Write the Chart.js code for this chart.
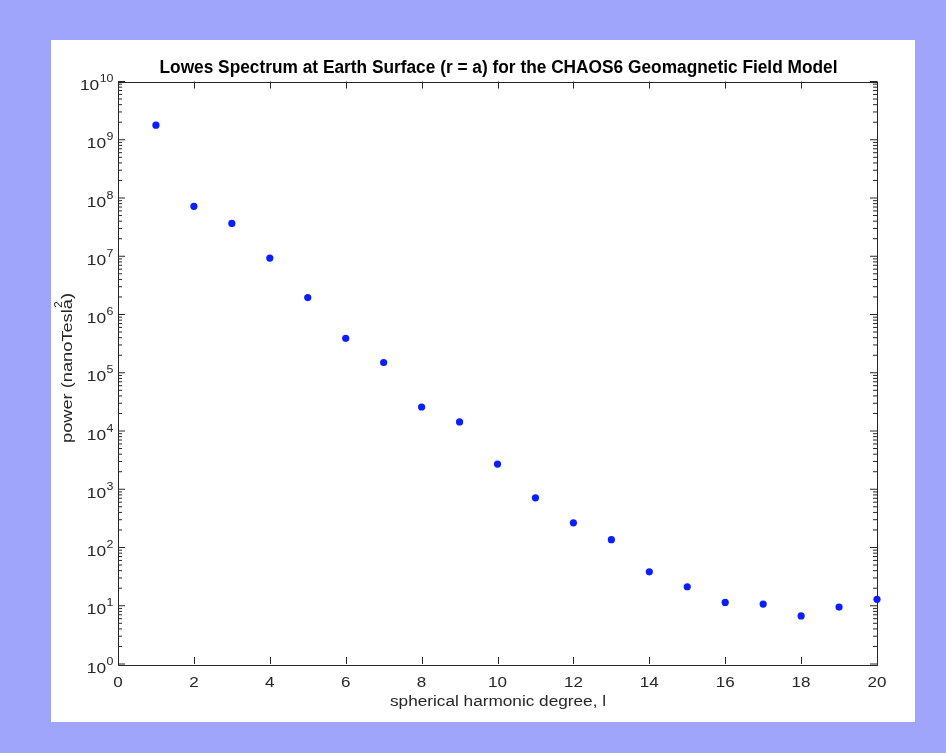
<!DOCTYPE html>
<html><head><meta charset="utf-8">
<script src="https://cdn.jsdelivr.net/npm/chart.js@4"></script>
<style>html,body{margin:0;padding:0;background:#a0a5fc;}canvas{display:block}</style>
</head><body>
<canvas id="c" width="946" height="753"></canvas>
<script>
// ---- data ----
const degrees = [1,2,3,4,5,6,7,8,9,10,11,12,13,14,15,16,17,18,19,20];
const power = [1.78e9, 7.2e7, 3.66e7, 9.3e6, 1.95e6, 3.9e5, 1.5e5, 2.58e4, 1.43e4, 2.7e3,
               713, 265, 136, 38.3, 21.2, 11.4, 10.7, 6.7, 9.5, 12.9];
const xTickValues = [0,2,4,6,8,10,12,14,16,18,20];
const yTickExponents = [0,1,2,3,4,5,6,7,8,9,10];
const titleText = 'Lowes Spectrum at Earth Surface (r = a) for the CHAOS6 Geomagnetic Field Model';
const xTitleText = 'spherical harmonic degree, l';
const yTitleMain = 'power (nanoTesla';
const yTitleSup = '2';
const yTitleEnd = ')';

const FONT = '"Liberation Sans", Arial, Helvetica, sans-serif';
const AX = '#262626';

function txt(ctx, s, x, y, size, weight, align, baseline, sx, color) {
  ctx.save();
  ctx.font = weight + ' ' + size + 'px ' + FONT;
  ctx.fillStyle = color || AX;
  ctx.textBaseline = baseline;
  ctx.textAlign = 'left';
  const w = ctx.measureText(s).width * sx;
  const x0 = align === 'center' ? x - w / 2 : align === 'right' ? x - w : x;
  ctx.translate(x0, y);
  ctx.scale(sx, 1);
  ctx.fillText(s, 0, 0);
  ctx.restore();
  return w;
}
function fitScale(ctx, s, size, weight, target) {
  ctx.save();
  ctx.font = weight + ' ' + size + 'px ' + FONT;
  const w = ctx.measureText(s).width;
  ctx.restore();
  return target / w;
}

const decor = {
  id: 'decor',
  beforeDraw(chart) {
    const ctx = chart.ctx;
    ctx.save();
    ctx.fillStyle = '#a0a5fc';
    ctx.fillRect(0, 0, chart.width, chart.height);
    ctx.fillStyle = '#ffffff';
    ctx.fillRect(51, 40, 864, 682);
    ctx.restore();
  },
  beforeDatasetsDraw(chart) {
    const ctx = chart.ctx;
    const a = chart.chartArea;
    const xs = chart.scales.x, ys = chart.scales.y;
    ctx.save();
    ctx.strokeStyle = AX;
    ctx.lineWidth = 1;
    ctx.beginPath();
    xTickValues.forEach(v => {
      const px = Math.round(xs.getPixelForValue(v)) + 0.5;
      ctx.moveTo(px, a.bottom); ctx.lineTo(px, a.bottom - 7);
      ctx.moveTo(px, a.top); ctx.lineTo(px, a.top + 7);
    });
    yTickExponents.forEach(e => {
      const py = ys.getPixelForValue(Math.pow(10, e));
      ctx.moveTo(a.left, py); ctx.lineTo(a.left + 7, py);
      ctx.moveTo(a.right, py); ctx.lineTo(a.right - 7, py);
      if (e < 10) {
        for (let m = 2; m <= 9; m++) {
          const pm = ys.getPixelForValue(m * Math.pow(10, e));
          ctx.moveTo(a.left, pm); ctx.lineTo(a.left + 4, pm);
          ctx.moveTo(a.right, pm); ctx.lineTo(a.right - 4, pm);
        }
      }
    });
    ctx.stroke();
    ctx.strokeRect(Math.round(a.left) + 0.5, Math.round(a.top) + 0.5,
                   Math.round(a.right - a.left), Math.round(a.bottom - a.top));
    ctx.restore();
  },
  afterDraw(chart) {
    const ctx = chart.ctx;
    const xs = chart.scales.x, ys = chart.scales.y;
    // title
    const tsx = fitScale(ctx, titleText, 17.5, 'bold', 678);
    txt(ctx, titleText, 498.5, 73, 17.5, 'bold', 'center', 'alphabetic', tsx, '#000');
    // x tick labels
    xTickValues.forEach(v => {
      txt(ctx, String(v), xs.getPixelForValue(v), 687, 15.5, 'normal', 'center', 'alphabetic', 1.1);
    });
    // y tick labels: 10^e
    yTickExponents.forEach(e => {
      const py = ys.getPixelForValue(Math.pow(10, e));
      ctx.save();
      ctx.font = '11.5px ' + FONT;
      const ew = ctx.measureText(String(e)).width * 1.08;
      ctx.restore();
      const right = 113.5;
      txt(ctx, String(e), right - ew, py + 0.5, 11.5, 'normal', 'left', 'alphabetic', 1.08);
      txt(ctx, '10', right - ew - 0.5, py + 8.5, 15.5, 'normal', 'right', 'alphabetic', 1.12);
    });
    // x title
    const xsx = fitScale(ctx, xTitleText, 15.5, 'normal', 216);
    txt(ctx, xTitleText, 498, 706, 15.5, 'normal', 'center', 'alphabetic', xsx);
    // y title (rotated)
    ctx.save();
    ctx.translate(72, 368);
    ctx.rotate(-Math.PI / 2);
    const full = yTitleMain + yTitleEnd;
    const ysx = fitScale(ctx, full, 15.5, 'normal', 150);
    ctx.font = '15.5px ' + FONT;
    const wMain = ctx.measureText(yTitleMain).width * ysx;
    const wA = ctx.measureText('a').width * ysx;
    const total = ctx.measureText(full).width * ysx;
    const x0 = -total / 2;
    txt(ctx, yTitleMain, x0, 0, 15.5, 'normal', 'left', 'alphabetic', ysx);
    txt(ctx, yTitleEnd, x0 + wMain, 0, 15.5, 'normal', 'left', 'alphabetic', ysx);
    txt(ctx, yTitleSup, x0 + wMain - wA + 1.5, -10.5, 11, 'normal', 'left', 'alphabetic', 1.05);
    ctx.restore();
  }
};

new Chart(document.getElementById('c'), {
  type: 'scatter',
  data: {
    datasets: [{
      data: degrees.map((d, i) => ({ x: d, y: power[i] })),
      backgroundColor: '#0a1eff',
      borderColor: '#0a1eff',
      pointRadius: 3.6,
      pointBorderWidth: 0,
      clip: false
    }]
  },
  options: {
    responsive: false,
    animation: false,
    devicePixelRatio: 1,
    layout: { padding: { left: 118, top: 81.5, right: 69, bottom: 89 } },
    plugins: { legend: { display: false }, title: { display: false }, tooltip: { enabled: false } },
    scales: {
      x: { type: 'linear', min: 0, max: 20, display: false, ticks: { stepSize: 2 } },
      y: { type: 'logarithmic', min: 1, max: 1e10, display: false }
    }
  },
  plugins: [decor]
});
</script>
</body></html>
